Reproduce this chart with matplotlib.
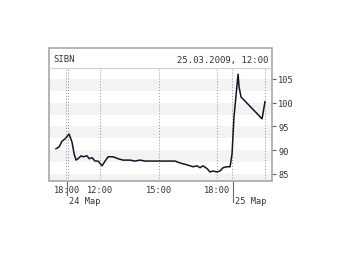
import numpy as np
import matplotlib.pyplot as plt
from matplotlib.patches import Rectangle
from matplotlib.lines import Line2D
import matplotlib.transforms as mtransforms

# SIBN intraday quote, 24-25 Mar 2009 (compressed trading-hour axis)
ticker = "SIBN"
stamp = "25.03.2009, 12:00"

hours = [9.74, 9.90, 10.05, 10.21, 10.41, 10.56, 10.67, 10.77, 10.87, 11.03,
         11.13, 11.33, 11.44, 11.59, 11.74, 11.90, 12.10, 12.26, 12.41, 12.67,
         12.92, 13.18, 13.54, 13.79, 14.05, 14.31, 14.82, 15.18, 15.85, 16.10,
         16.46, 16.77, 16.97, 17.13, 17.28, 17.49, 17.64, 17.79, 18.00, 18.15,
         18.31, 18.51, 18.67, 18.77, 18.87, 19.03, 19.08, 19.13, 19.23, 20.31,
         20.46]
prices = [90.3, 90.7, 91.9, 92.4, 93.4, 91.7, 89.2, 87.9, 88.2, 88.8,
          88.6, 88.8, 88.2, 88.4, 87.7, 87.7, 86.7, 87.7, 88.6, 88.6,
          88.2, 87.9, 87.9, 87.7, 87.9, 87.7, 87.7, 87.7, 87.7, 87.3,
          86.9, 86.5, 86.7, 86.3, 86.7, 86.1, 85.4, 85.6, 85.4, 85.6,
          86.3, 86.5, 86.5, 89.2, 97.0, 103.9, 106.0, 103.3, 101.2, 96.6,
          100.2]

time_ticks = [10.31, 12, 15, 18]
time_labels = ["18:00", "12:00", "15:00", "18:00"]
day_ticks = [10.31, 18.8]
day_labels = ["24 Мар", "25 Мар"]
grid_x = [10.26, 10.36, 12, 15, 18, 18.77, 20.46]
price_ticks = [85, 90, 95, 100, 105]

W, H = 340, 255
fig = plt.figure(figsize=(W / 100, H / 100), dpi=100)
fig.patch.set_facecolor("white")

mono = "DejaVu Sans Mono"
txt = "#333333"
frame = "#a8a8a8"

# ── основная область графика ──
L, R, T, B = 49, 272, 69, 182
ax = fig.add_axes([L / W, 1 - B / H, (R - L) / W, (B - T) / H])
ax.set_xlim(9.38, 20.82)
ax.set_ylim(83.5, 107.3)

for y0 in np.arange(82.5, 107.5, 5):
    ax.axhspan(y0, y0 + 2.5, color="#f3f3f3", lw=0, zorder=0)
for gx in grid_x:
    ax.axvline(gx, color="#909090", lw=0.7, ls=(0, (1, 2)), zorder=1)

ax.plot(hours, prices, color="#141428", lw=1.1, zorder=3)

for s in ax.spines.values():
    s.set_visible(False)

ax.yaxis.tick_right()
ax.set_yticks(price_ticks)
ax.set_yticklabels([str(p) for p in price_ticks], fontfamily=mono,
                   fontsize=6.2, color=txt)
ax.tick_params(axis="y", length=3, width=0.8, color="#666666", pad=1.5)

ax.set_xticks(time_ticks)
ax.set_xticklabels(time_labels, fontfamily=mono, fontsize=6.2, color=txt)
ax.tick_params(axis="x", length=0, pad=3)

# длинные засечки смены дня и подписи дат
trans = mtransforms.blended_transform_factory(ax.transData, ax.transAxes)
for d, lab, ln in zip(day_ticks, day_labels, [-0.12, -0.19]):
    ax.add_line(Line2D([d, d], [0, ln], transform=trans, color="#666666",
                       lw=0.8, clip_on=False))
    ax.text(d + 0.12, -0.175, lab, transform=trans, ha="left", va="center",
            fontfamily=mono, fontsize=6.2, color=txt)

# ── заголовок ──
fig.text((L + 4) / W, 1 - 60 / H, ticker, ha="left", va="center",
         fontfamily=mono, fontsize=6.4, color=txt)
fig.text((R - 4) / W, 1 - 60 / H, stamp, ha="right", va="center",
         fontfamily=mono, fontsize=6.4, color=txt)

# рамка и разделитель
fig.patches.append(Rectangle((L / W, 1 - B / H), (R - L) / W, (B - 49) / H,
                             transform=fig.transFigure, fill=False,
                             ec=frame, lw=1.2))
fig.lines.append(Line2D([L / W, R / W], [1 - T / H, 1 - T / H],
                        transform=fig.transFigure, color="#cfcfcf", lw=0.8))

fig.savefig("out.png", dpi=100)
